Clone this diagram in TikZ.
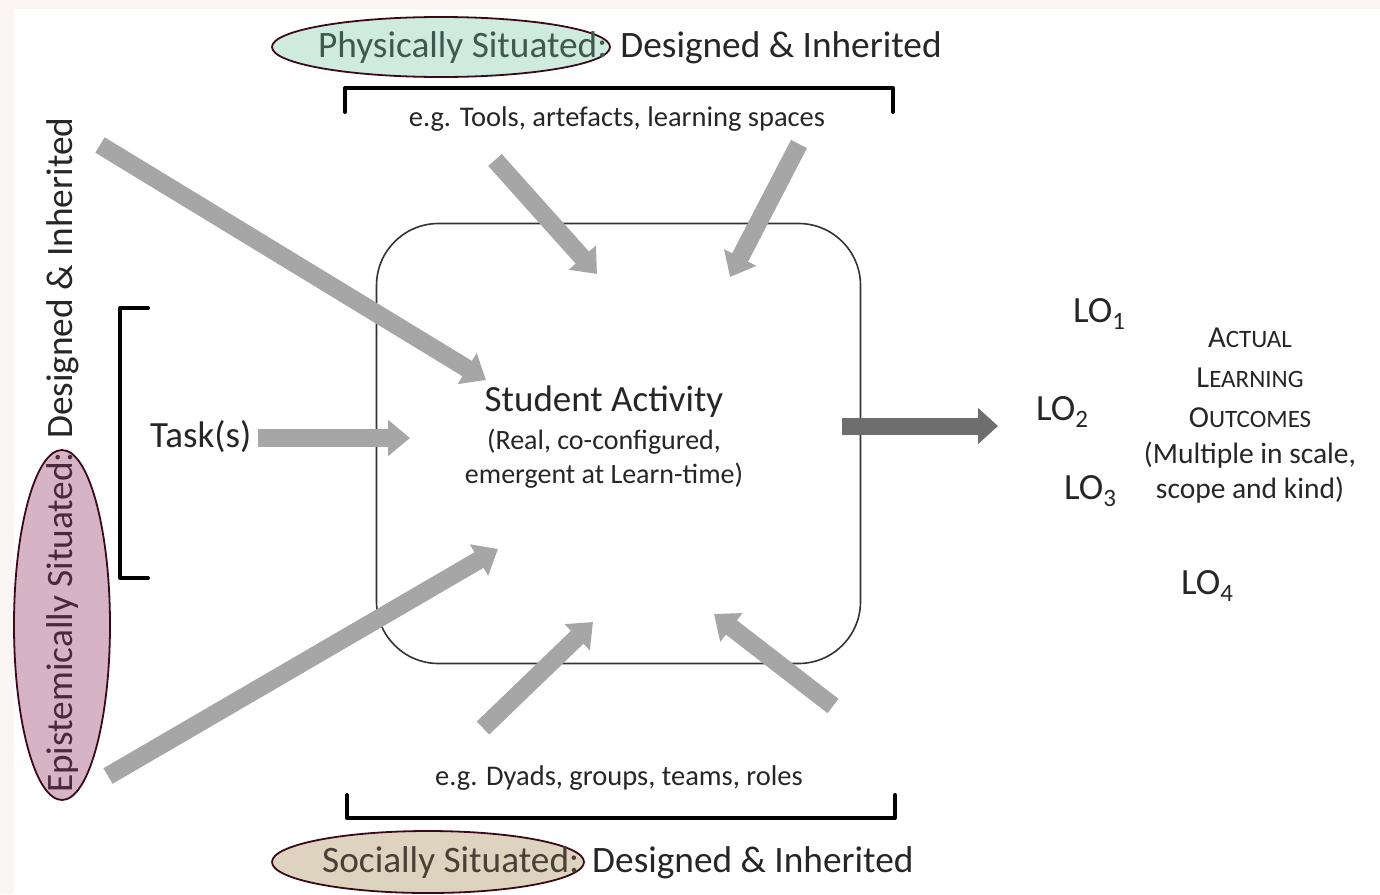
\documentclass[tikz,border=0pt]{standalone}
\usepackage{fontspec}
\setmainfont{Carlito}
\usetikzlibrary{arrows.meta,shapes.geometric}
\definecolor{arrowgray}{HTML}{A6A6A6}
\definecolor{outgray}{HTML}{6E6E6E}
\definecolor{txt}{HTML}{262626}
\definecolor{edgemaroon}{HTML}{3A0A18}
\definecolor{greenfill}{HTML}{CFEBDF}
\definecolor{pinkfill}{HTML}{D6B4C5}
\definecolor{tanfill}{HTML}{DDD3BF}
\definecolor{greentxt}{HTML}{3E5A50}
\definecolor{pinktxt}{HTML}{4A2A3A}
\definecolor{tantxt}{HTML}{4A4036}
\definecolor{bgpink}{HTML}{FBF4F4}
\newcommand{\losub}[1]{\raisebox{-0.35ex}{\fontsize{25}{25}\selectfont #1}}
\newcommand{\fsc}[2]{#1{\fontsize{25}{25}\selectfont #2}}
\begin{document}
\begin{tikzpicture}[x=1pt,y=-1pt,
  every node/.style={text=txt, inner sep=0pt},
  bigtxt/.style={font=\fontsize{37.3}{44}\selectfont},
  midtxt/.style={font=\fontsize{37}{42}\selectfont},
  smalltxt/.style={font=\fontsize{28.5}{34}\selectfont},
  situ/.style={ellipse, draw=edgemaroon, line width=1.8pt},
  brack/.style={draw=black, line width=4pt, line cap=round, line join=round},
  grayarrow/.style={draw=arrowgray, line width=18pt, -{Triangle[width=35pt,length=22pt]}},
  outarrow/.style={draw=outgray, line width=17pt, -{Triangle[width=35pt,length=20pt]}}
]
\useasboundingbox (0,0) rectangle (1380,894);
\fill[bgpink] (0,0) rectangle (1380,894);
\fill[white] (14,9) rectangle (1380,894);

% central box
\node[draw=black!80, line width=1.6pt, rounded corners=62pt, minimum width=484pt, minimum height=440pt] (box) at (618.5,443.5) {};
\node[midtxt] (act) at (604,402) {Student Activity};
\node[align=center, font=\fontsize{28}{34}\selectfont] (actsub) at (604,459)
  {(Real, co-configured,\\emergent at Learn-time)};

% top: physically situated
\node[situ, fill=greenfill, minimum width=338pt, minimum height=60pt] (pe) at (441,47) {};
\node[bigtxt, anchor=west] (pt) at (318,48) {\textcolor{greentxt}{Physically Situated:}\hspace{0.35em}Designed \& Inherited};
\coordinate (tb1) at (345,112);
\coordinate (tb2) at (345,88);
\coordinate (tb3) at (893,88);
\coordinate (tb4) at (893,112);
\draw[brack] (tb1) -- (tb2) -- (tb3) -- (tb4);
\node[smalltxt] (tex) at (617,119) {e.g. Tools, artefacts, learning spaces};

% bottom: socially situated
\node[situ, fill=tanfill, minimum width=312pt, minimum height=62pt] (se) at (428,862) {};
\node[bigtxt, anchor=west] (st) at (322,863) {\textcolor{tantxt}{Socially Situated:}\hspace{0.35em}Designed \& Inherited};
\coordinate (bb1) at (347,795);
\coordinate (bb2) at (347,818);
\coordinate (bb3) at (895,818);
\coordinate (bb4) at (895,795);
\draw[brack] (bb1) -- (bb2) -- (bb3) -- (bb4);
\node[smalltxt] (bex) at (619,778) {e.g. Dyads, groups, teams, roles};

% left: epistemically situated
\node[situ, fill=pinkfill, minimum width=96pt, minimum height=350pt] (ee) at (62,625) {};
\node[bigtxt, rotate=90, anchor=west] (et) at (63,793) {\textcolor{pinktxt}{Epistemically Situated:}\hspace{0.35em}Designed \& Inherited};
\coordinate (lb1) at (148,308);
\coordinate (lb2) at (120,308);
\coordinate (lb3) at (120,578);
\coordinate (lb4) at (148,578);
\draw[brack] (lb1) -- (lb2) -- (lb3) -- (lb4);
\node[midtxt, anchor=west] (task) at (150,437) {Task(s)};

% arrows
\coordinate (tl0) at (100,145);   \coordinate (tl1) at (486,380);
\coordinate (bl0) at (108,776);   \coordinate (bl1) at (498,549);
\coordinate (t10) at (495,160);   \coordinate (t11) at (597,274);
\coordinate (t20) at (799,144);   \coordinate (t21) at (730,277);
\coordinate (b10) at (483,728);   \coordinate (b11) at (593,622);
\coordinate (b20) at (833,706);   \coordinate (b21) at (714,614);
\coordinate (ta0) at (258,438);   \coordinate (ta1) at (410,438);
\draw[grayarrow] (tl0) -- (tl1);
\draw[grayarrow] (bl0) -- (bl1);
\draw[grayarrow] (t10) -- (t11);
\draw[grayarrow] (t20) -- (t21);
\draw[grayarrow] (b10) -- (b11);
\draw[grayarrow] (b20) -- (b21);
\draw[grayarrow] (ta0) -- (ta1);
\coordinate (oa0) at (842,426);
\coordinate (oa1) at (998,426);
\draw[outarrow] (oa0) -- (oa1);

% learning outcomes
\node[midtxt] (lo1) at (1099,314) {LO\losub{1}};
\node[midtxt] (lo2) at (1062,412) {LO\losub{2}};
\node[midtxt] (lo3) at (1090,491) {LO\losub{3}};
\node[midtxt] (lo4) at (1207,586) {LO\losub{4}};
\node[font=\fontsize{30.5}{40}\selectfont] (alo1) at (1250,338) {\fsc{A}{CTUAL}};
\node[font=\fontsize{30.5}{40}\selectfont] (alo2) at (1250,378) {\fsc{L}{EARNING}};
\node[font=\fontsize{30.5}{40}\selectfont] (alo3) at (1250,418) {\fsc{O}{UTCOMES}};
\node[font=\fontsize{29.5}{40}\selectfont] (alo4) at (1250,455) {(Multiple in scale,};
\node[font=\fontsize{29.5}{40}\selectfont] (alo5) at (1250,490) {scope and kind)};
\end{tikzpicture}
\end{document}
